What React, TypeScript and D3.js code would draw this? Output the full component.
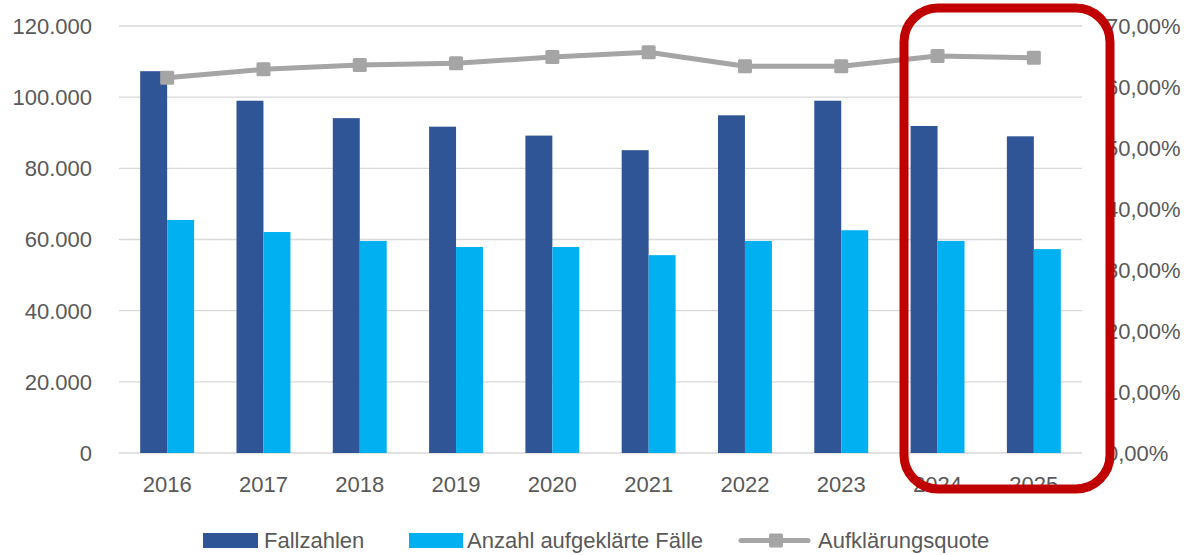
import React, { useEffect, useRef } from 'react';
import * as d3 from 'd3';

const years = ['2016', '2017', '2018', '2019', '2020', '2021', '2022', '2023', '2024', '2025'];
const fallzahlen = [107300, 99000, 94100, 91700, 89200, 85100, 94900, 99000, 91900, 89000];
const aufgeklaert = [65500, 62100, 59600, 57900, 57900, 55600, 59600, 62600, 59600, 57300];
const quote = [0.615, 0.629, 0.636, 0.639, 0.649, 0.657, 0.634, 0.634, 0.651, 0.648];
const leftTicks = [0, 20000, 40000, 60000, 80000, 100000, 120000];
const rightTicks = [0, 0.1, 0.2, 0.3, 0.4, 0.5, 0.6, 0.7];

const W = 1184;
const H = 555;
const FONT = 'Liberation Sans, Arial, sans-serif';
const TXT = '#595959';
const DARK = '#2F5597';
const LIGHT = '#00B0F0';
const GREY = '#A5A5A5';

export default function App() {
    const ref = useRef<SVGSVGElement>(null);

    useEffect(() => {
        const svg = d3.select(ref.current);
        svg.selectAll('*').remove();

        const margin = { top: 26, left: 119, bottom: 453, right: 1082 };

        const x = d3.scaleBand()
            .domain(years)
            .range([margin.left, margin.right])
            .paddingInner(0.44)
            .paddingOuter(0.22);
        const y = d3.scaleLinear().domain([0, 120000]).range([margin.bottom, margin.top]);
        const yR = d3.scaleLinear().domain([0, 0.7]).range([margin.bottom, margin.top]);
        const sub = d3.scaleBand().domain(['a', 'b']).range([0, x.bandwidth()]);

        // gridlines
        svg.append('g')
            .selectAll('line')
            .data(leftTicks)
            .join('line')
            .attr('x1', margin.left)
            .attr('x2', margin.right)
            .attr('y1', d => y(d))
            .attr('y2', d => y(d))
            .attr('stroke', '#D9D9D9')
            .attr('stroke-width', 1.3);

        // left axis labels
        svg.append('g')
            .selectAll('text')
            .data(leftTicks)
            .join('text')
            .attr('x', 92)
            .attr('y', d => y(d))
            .attr('dy', '0.36em')
            .attr('text-anchor', 'end')
            .attr('font-family', FONT)
            .attr('font-size', 22)
            .attr('fill', TXT)
            .text(d => d === 0 ? '0' : d3.format(',')(d).replace(/,/g, '.'));

        // right axis labels
        svg.append('g')
            .selectAll('text')
            .data(rightTicks)
            .join('text')
            .attr('x', 1106)
            .attr('y', d => yR(d))
            .attr('dy', '0.36em')
            .attr('font-family', FONT)
            .attr('font-size', 22)
            .attr('fill', TXT)
            .text(d => (d * 100).toFixed(2).replace('.', ',') + '%');

        // x labels
        svg.append('g')
            .selectAll('text')
            .data(years)
            .join('text')
            .attr('x', d => x(d)! + x.bandwidth() / 2)
            .attr('y', 492)
            .attr('text-anchor', 'middle')
            .attr('font-family', FONT)
            .attr('font-size', 22)
            .attr('fill', TXT)
            .text(d => d);

        // bars
        svg.append('g')
            .selectAll('rect')
            .data(years)
            .join('rect')
            .attr('x', d => x(d)! + sub('a')!)
            .attr('y', (d, i) => y(fallzahlen[i]))
            .attr('width', sub.bandwidth())
            .attr('height', (d, i) => y(0) - y(fallzahlen[i]))
            .attr('fill', DARK);

        svg.append('g')
            .selectAll('rect')
            .data(years)
            .join('rect')
            .attr('x', d => x(d)! + sub('b')!)
            .attr('y', (d, i) => y(aufgeklaert[i]))
            .attr('width', sub.bandwidth())
            .attr('height', (d, i) => y(0) - y(aufgeklaert[i]))
            .attr('fill', LIGHT);

        // line
        const line = d3.line<number>()
            .x((d, i) => x(years[i])! + x.bandwidth() / 2)
            .y(d => yR(d));
        svg.append('path')
            .datum(quote)
            .attr('d', line)
            .attr('fill', 'none')
            .attr('stroke', GREY)
            .attr('stroke-width', 5)
            .attr('stroke-linejoin', 'round');
        svg.append('g')
            .selectAll('rect')
            .data(quote)
            .join('rect')
            .attr('x', (d, i) => x(years[i])! + x.bandwidth() / 2 - 7)
            .attr('y', d => yR(d) - 7)
            .attr('width', 14)
            .attr('height', 14)
            .attr('rx', 1.5)
            .attr('fill', GREY);

        // red highlight around 2024-2025
        svg.append('rect')
            .attr('x', 904)
            .attr('y', 8)
            .attr('width', 206)
            .attr('height', 481)
            .attr('rx', 34)
            .attr('fill', 'none')
            .attr('stroke', '#C00000')
            .attr('stroke-width', 9);

        // legend
        const lg = svg.append('g');
        lg.append('rect').attr('x', 203).attr('y', 533).attr('width', 55).attr('height', 15).attr('fill', DARK);
        lg.append('rect').attr('x', 409).attr('y', 533).attr('width', 54).attr('height', 15).attr('fill', LIGHT);
        lg.append('line').attr('x1', 741).attr('x2', 808).attr('y1', 540.5).attr('y2', 540.5)
            .attr('stroke', GREY).attr('stroke-width', 5).attr('stroke-linecap', 'round');
        lg.append('rect').attr('x', 769).attr('y', 533.5).attr('width', 14).attr('height', 14).attr('rx', 1.5).attr('fill', GREY);
        const items = [
            { x: 264, label: 'Fallzahlen' },
            { x: 467, label: 'Anzahl aufgeklärte Fälle' },
            { x: 818, label: 'Aufklärungsquote' },
        ];
        lg.selectAll('text')
            .data(items)
            .join('text')
            .attr('x', d => d.x)
            .attr('y', 548)
            .attr('font-family', FONT)
            .attr('font-size', 22)
            .attr('fill', TXT)
            .text(d => d.label);
    }, []);

    return (
        <svg ref={ref} width={W} height={H} style={{ position: 'absolute', left: 0, top: 0, background: 'white' }} />
    );
}
